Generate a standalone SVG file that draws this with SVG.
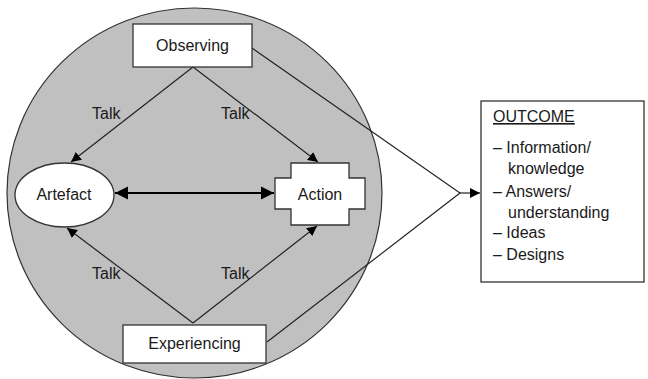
<svg xmlns="http://www.w3.org/2000/svg" width="648" height="379" viewBox="0 0 648 379">
<style>
.t{font-family:"Liberation Sans",Arial,sans-serif;font-size:16px;fill:#1a1a1a}
.box{fill:#fff;stroke:#333;stroke-width:1.3}
.ln{fill:none;stroke:#222;stroke-width:1.2}
</style>
<defs>
<marker id="ah" viewBox="0 0 10 10" refX="10" refY="5" markerWidth="10" markerHeight="10" markerUnits="userSpaceOnUse" orient="auto-start-reverse">
<path d="M0,0 L10,5 L0,10 Z" fill="#000"/>
</marker>
<marker id="ah2" viewBox="0 0 10 10" refX="10" refY="5" markerWidth="6" markerHeight="6" orient="auto-start-reverse">
<path d="M0,0 L10,5 L0,10 Z" fill="#000"/>
</marker>
</defs>
<rect width="648" height="379" fill="#fff"/>
<g id="circle"><ellipse cx="194.5" cy="193" rx="187.5" ry="185" fill="#c0c0c0" stroke="#333" stroke-width="1.2"/></g>
<g id="connectors">
<line class="ln" x1="193" y1="67" x2="71" y2="162" marker-end="url(#ah)"/>
<line class="ln" x1="193" y1="67" x2="318" y2="162" marker-end="url(#ah)"/>
<line class="ln" x1="193" y1="323" x2="67" y2="228" marker-end="url(#ah)"/>
<line class="ln" x1="193" y1="323" x2="317" y2="226" marker-end="url(#ah)"/>
<line x1="115" y1="193" x2="274" y2="193" stroke="#000" stroke-width="2.2" marker-start="url(#ah2)" marker-end="url(#ah2)"/>
<polyline class="ln" points="252,48 460,193 267,342"/>
<line class="ln" x1="460" y1="193" x2="480" y2="193" marker-end="url(#ah)"/>
<text class="t" x="92" y="119">Talk</text>
<text class="t" x="221" y="119">Talk</text>
<text class="t" x="92" y="279">Talk</text>
<text class="t" x="221" y="279">Talk</text>
</g>
<g id="observing"><rect class="box" x="133" y="24" width="119" height="43"/><text class="t" x="192.5" y="51" text-anchor="middle">Observing</text></g>
<g id="experiencing"><rect class="box" x="123" y="325" width="143" height="38"/><text class="t" x="194.5" y="349" text-anchor="middle">Experiencing</text></g>
<g id="artefact"><ellipse class="box" cx="64.5" cy="195" rx="49.5" ry="32"/><text class="t" x="64" y="200" text-anchor="middle">Artefact</text></g>
<g id="action"><path class="box" d="M291,163 H349 V178 H365 V209 H349 V225 H291 V209 H275 V178 H291 Z"/><text class="t" x="320" y="200" text-anchor="middle">Action</text></g>
<g id="outcome"><rect class="box" x="481" y="101" width="163" height="181"/>
<text class="t" x="493" y="122" text-decoration="underline">OUTCOME</text>
<text class="t" x="493" y="153">– Information/</text>
<text class="t" x="508" y="174">knowledge</text>
<text class="t" x="493" y="197">– Answers/</text>
<text class="t" x="508" y="218">understanding</text>
<text class="t" x="493" y="238">– Ideas</text>
<text class="t" x="493" y="260">– Designs</text>
</g>
</svg>
